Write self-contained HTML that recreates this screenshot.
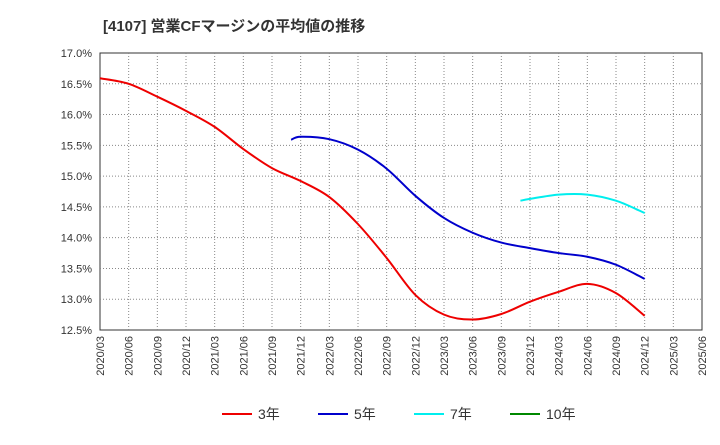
<!DOCTYPE html>
<html><head><meta charset="utf-8"><style>
body{margin:0;background:#fff;font-family:"Liberation Sans","Noto Sans CJK JP",sans-serif}
</style></head><body>
<svg id="c" width="720" height="440" xmlns="http://www.w3.org/2000/svg"></svg>
<script>
const tickLabels=["2020/03","2020/06","2020/09","2020/12","2021/03","2021/06","2021/09","2021/12","2022/03","2022/06","2022/09","2022/12","2023/03","2023/06","2023/09","2023/12","2024/03","2024/06","2024/09","2024/12","2025/03","2025/06"];
const yTicks=[12.5,13.0,13.5,14.0,14.5,15.0,15.5,16.0,16.5,17.0];
const s3m=[0,3,6,9,12,15,18,21,24,27,30,33,36,39,42,45,48,51,54,57];
const s3v=[16.59,16.50,16.29,16.06,15.80,15.44,15.13,14.92,14.66,14.22,13.67,13.07,12.75,12.67,12.76,12.96,13.12,13.25,13.10,12.73];
const s5m=[20,21,24,27,30,33,36,39,42,45,48,51,54,57];
const s5v=[15.59,15.64,15.60,15.43,15.12,14.68,14.32,14.08,13.92,13.83,13.75,13.69,13.56,13.33];
const s7m=[44,45,48,51,54,57];
const s7v=[14.60,14.63,14.70,14.70,14.60,14.40];
const legend=[["3年","#e00"],["5年","#00c"],["7年","#0ee"],["10年","#080"]];
const L=100,R=702,T=53,B=330;
const X=m=>L+(R-L)*m/63;
const Y=v=>B-(v-12.5)/4.5*(B-T);
const svg=document.getElementById('c');const NS="http://www.w3.org/2000/svg";
function mk(t,a,p){const e=document.createElementNS(NS,t);for(const k in a)e.setAttribute(k,a[k]);(p||svg).appendChild(e);return e;}
let t=mk('text',{x:103,y:31,'font-size':15,'font-weight':'bold',fill:'#333'});t.textContent="[4107]  営業CFマージンの平均値の推移";

let bg=mk('rect',{x:L,y:T,width:R-L,height:B-T,fill:'#fff',stroke:'#333'});

yTicks.forEach(v=>{const y=Y(v);
 if(v>12.5&&v<17){const g=mk('line',{x1:L,x2:R,y1:y,y2:y,stroke:'#888','stroke-dasharray':'1,2'});}
 const tx=mk('text',{x:L-8,y:y+4,'text-anchor':'end','font-size':11,fill:'#333'});tx.textContent=v.toFixed(1)+"%";
 });
tickLabels.forEach((s,i)=>{const x=X(i*3);
 if(i>0&&i<21){const g=mk('line',{x1:x,x2:x,y1:T,y2:B,stroke:'#888','stroke-dasharray':'1,2'});}
 const tx=mk('text',{x:0,y:0,'text-anchor':'end','font-size':11,fill:'#333',transform:`translate(${x+4},${B+6}) rotate(-90)`});tx.textContent=s;
 });
function path(ms,vs){const p=ms.map((m,i)=>[X(m),Y(vs[i])]);let d=`M${p[0][0]},${p[0][1]}`;
 for(let i=0;i<p.length-1;i++){const p0=p[i-1]||p[i],p1=p[i],p2=p[i+1],p3=p[i+2]||p2;
 d+=`C${p1[0]+(p2[0]-p0[0])/6},${p1[1]+(p2[1]-p0[1])/6} ${p2[0]-(p3[0]-p1[0])/6},${p2[1]-(p3[1]-p1[1])/6} ${p2[0]},${p2[1]}`;}return d;}
[[s3m,s3v,'#e00','series-3yr'],[s5m,s5v,'#00c','series-5yr'],[s7m,s7v,'#0ee','series-7yr']].forEach(([m,v,c,n])=>{
 const e=mk('path',{d:path(m,v),fill:'none',stroke:c,'stroke-width':2});});
const lx=[222,318,414,510];
legend.forEach(([s,c],i)=>{const g=mk('g',{});
 mk('line',{x1:lx[i],x2:lx[i]+30,y1:414,y2:414,stroke:c,'stroke-width':2},g);
 const tx=mk('text',{x:lx[i]+36,y:419,'font-size':14,fill:'#333'},g);tx.textContent=s;});
</script></body></html>
